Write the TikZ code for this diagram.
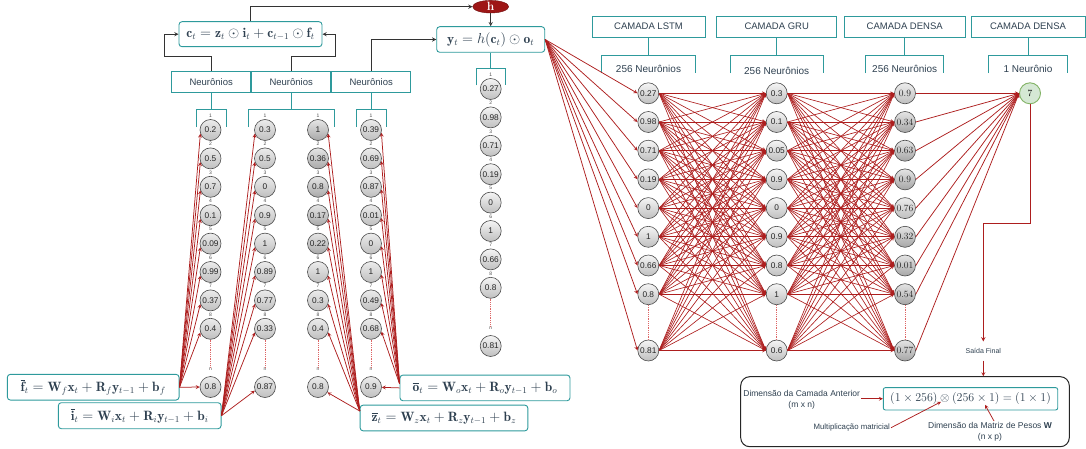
\documentclass[tikz,border=0pt]{standalone}
\usepackage{amsmath}
\usepackage{amssymb}
\usepackage{fontspec}
\setsansfont{Liberation Sans}
\usepackage{tikz}
\usetikzlibrary{positioning}
\usetikzlibrary{arrows}
\usetikzlibrary{calc}
\usetikzlibrary{shapes.geometric}

\definecolor{tealc}{HTML}{2E9A9C}
\definecolor{txtc}{HTML}{2E4050}
\definecolor{redc}{HTML}{AD1E1E}
\definecolor{dotc}{HTML}{DD6666}
\definecolor{hred}{HTML}{9E1616}
\definecolor{grnfill}{HTML}{D5E8D4}
\definecolor{grndraw}{HTML}{82B366}

\tikzset{
	>=stealth,
	neuron/.style={
		circle, draw=gray!60!black, line width=0.6pt,
		top color=gray!8, bottom color=gray!50,
		minimum size=21pt, inner sep=0pt, text=black!85,
		font=\sffamily\fontsize{8.3}{9}\selectfont},
	idx/.style={font=\sffamily\fontsize{5}{5}\selectfont, text=black!70, inner sep=0.5pt},
	gatebox/.style={
		draw=tealc, line width=0.9pt, rounded corners=3pt, fill=white,
		text=txtc, font=\fontsize{13.5}{15}\selectfont, inner sep=0pt},
	labbox/.style={
		draw=tealc, line width=0.9pt, fill=white, text=txtc,
		font=\sffamily\fontsize{9.5}{10}\selectfont, inner sep=0pt},
	bracket/.style={draw=tealc, line width=1pt},
	conn/.style={draw=black!80, line width=0.9pt, ->},
	wire/.style={draw=redc, line width=0.75pt, ->},
	mesh/.style={draw=redc, line width=0.65pt, ->},
	dots/.style={draw=dotc, densely dotted, line width=0.8pt},
	note/.style={text=txtc, font=\sffamily\fontsize{8.5}{11}\selectfont,
		align=center, inner sep=1pt}
}

\begin{document}
\begin{tikzpicture}[x=1pt,y=-1pt]
\useasboundingbox (0,0) rectangle (1086,449);

% celula LSTM
\node[gatebox, minimum width=143pt, minimum height=25pt] (ct) at (250.5,34.2)
	{$\mathbf{c}_t=\mathbf{z}_t\odot\mathbf{i}_t+\mathbf{c}_{t-1}\odot\mathbf{f}_t$};
\node[ellipse, draw=hred!70!black, fill=hred, minimum width=36pt, minimum height=12.6pt,
	inner sep=0pt, text=white, font=\bfseries\fontsize{12}{12}\selectfont] (h) at (490.7,6.7) {h};
\node[gatebox, minimum width=108pt, minimum height=25.6pt] (yt) at (490.7,39.5)
	{$\mathbf{y}_t=h(\mathbf{c}_t)\odot\mathbf{o}_t$};

\foreach \n/\x in {nf/211.2, ni/291.2, no/371.2}
	\node[labbox, minimum width=79pt, minimum height=21.3pt] (\n) at (\x,81.7) {Neurônios};

\draw[conn] (nf.north) -- ++(0,-14.3) -| ([xshift=-14pt]ct.west) -- (ct.west);
\draw[conn] (ni.north) -- ++(0,-14.3) -| ([xshift=13pt]ct.east) -- (ct.east);
\draw[conn] (no.north) |- (yt.west);
\draw[conn] (ct.north) |- (h.west);
\draw[conn] (h.south) -- (yt.north);

% chaves
\foreach \n/\w in {nf/15, ni/42.9, no/15}{
	\draw[bracket] (\n.south) -- ++(0,17) coordinate (b\n);
	\draw[bracket] ($(b\n)+(-\w,17.4)$) -- ++(0,-17.4) -- ($(b\n)+(\w,0)$) -- ++(0,17.4);
}
\draw[bracket] (yt.south) -- ++(0,15.4) coordinate (byt);
\draw[bracket] ($(byt)+(-14.5,17.3)$) -- ++(0,-17.3) -- ($(byt)+(14.5,0)$) -- ++(0,17.3);

% neuronios das portas
\foreach \c/\x/\vals in {
	A/210.5/{0.2/50,0.5/50,0.7/50,0.1/50,0.09/50,0.99/50,0.37/50,0.4/50,0.8/50},
	B/265/{0.3/50,0.5/50,0/50,0.9/50,1/50,0.89/50,0.77/50,0.33/50,0.87/50},
	Z/318/{1/68,0.36/68,0.8/68,0.17/68,0.22/68,1/50,0.3/50,0.4/50,0.8/50},
	O/371/{0.39/50,0.69/50,0.87/50,0.01/50,0/50,1/50,0.49/50,0.68/50,0.9/50}}{
	\foreach \v/\b [count=\k] in \vals{
		\ifnum\k<9
			\node[neuron, top color=gray!\b!white!30, bottom color=gray!\b] (\c\k) at (\x,{130+28.4*(\k-1)}) {\v};
			\node[idx] at ([yshift=3.5pt]\c\k.north) {\k};
		\else
			\node[neuron, top color=gray!\b!white!30, bottom color=gray!\b] (\c\k) at (\x,387) {\v};
			\node[idx] (n\c) at ([yshift=7pt]\c\k.north) {n};
		\fi
	}
	\draw[dots] (\c8.south) -- (n\c.north);
}

% saida y_t
\foreach \v [count=\k] in {0.27,0.98,0.71,0.19,0,1,0.66,0.8,0.81}{
	\ifnum\k<9
		\node[neuron] (Y\k) at (490.7,{89+28.4*(\k-1)}) {\v};
		\node[idx] at ([yshift=3.5pt]Y\k.north) {\k};
	\else
		\node[neuron] (Y\k) at (490.7,346) {\v};
		\node[idx] (nY) at ([yshift=7pt]Y\k.north) {n};
	\fi
}
\draw[dots] (Y8.south) -- (nY.north);

% equacoes das portas
\node[gatebox, minimum width=171.7pt, minimum height=25.7pt] (fq) at (93.2,387.2)
	{$\overline{\mathbf{f}}_t=\mathbf{W}_f\mathbf{x}_t+\mathbf{R}_f\mathbf{y}_{t-1}+\mathbf{b}_f$};
\node[gatebox, minimum width=162.7pt, minimum height=26pt] (iq) at (139.7,415.7)
	{$\overline{\mathbf{i}}_t=\mathbf{W}_i\mathbf{x}_t+\mathbf{R}_i\mathbf{y}_{t-1}+\mathbf{b}_i$};
\node[gatebox, minimum width=170pt, minimum height=25.7pt] (oq) at (485,387.9)
	{$\overline{\mathbf{o}}_t=\mathbf{W}_o\mathbf{x}_t+\mathbf{R}_o\mathbf{y}_{t-1}+\mathbf{b}_o$};
\node[gatebox, minimum width=167.7pt, minimum height=25.7pt] (zq) at (444,418)
	{$\overline{\mathbf{z}}_t=\mathbf{W}_z\mathbf{x}_t+\mathbf{R}_z\mathbf{y}_{t-1}+\mathbf{b}_z$};

\foreach \k in {1,...,8}{
	\draw[wire] (fq.east) -- (A\k.200);
	\draw[wire] (iq.east) -- (B\k.200);
	\draw[wire] ([yshift=7pt]zq.west) -- (Z\k.-20);
	\draw[wire] ([yshift=4pt]oq.west) -- (O\k.-15);
}
\draw[wire] (fq.east) -- (A9);
\draw[wire] (iq.east) -- (B9.200);
\draw[wire] ([yshift=7pt]zq.west) -- (Z9);
\draw[wire] (oq.west) -- (O9);

% camadas
\foreach \n/\x/\w/\t in {hL/648.5/113/CAMADA LSTM, hG/776.7/120/CAMADA GRU,
		hD/904.7/120.7/CAMADA DENSA, hO/1028/114/CAMADA DENSA}
	\node[labbox, minimum width=\w pt, minimum height=21.3pt] (\n) at (\x,26.7) {\t};

\foreach \n/\w/\t/\dy in {hL/46.7/256 Neurônios/0, hG/46.3/256 Neurônios/2.5,
		hD/39.2/256 Neurônios/0, hO/39.5/1 Neurônio/0}{
	\draw[bracket] (\n.south) -- ++(0,17.7) coordinate (b\n);
	\draw[bracket] ($(b\n)+(-\w,17.7)$) -- ++(0,-17.7) -- ($(b\n)+(\w,0)$) -- ++(0,17.7);
	\node[text=txtc, font=\sffamily\fontsize{10}{10}\selectfont, inner sep=0pt] (t\n) at ($(b\n)+(0,13+\dy)$) {\t};
}

\foreach \c/\x/\vals in {
	L/648.3/{0.27/50,0.98/50,0.71/50,0.19/50,0/50,1/50,0.66/50,0.8/50,0.81/50},
	G/776.7/{0.3/50,0.1/50,0.05/50,0.9/50,0/50,0.9/50,0.8/50,1/50,0.6/50}}{
	\foreach \v/\b [count=\k] in \vals{
		\ifnum\k<9
			\node[neuron, bottom color=gray!\b] (\c\k) at (\x,{93.3+28.7*(\k-1)}) {\v};
		\else
			\node[neuron, bottom color=gray!\b] (\c\k) at (\x,350.5) {\v};
		\fi
	}
	\draw[dots] (\c8.south) -- (\c9.north);
}
\foreach \v/\b [count=\k] in {0.9/50,0.34/70,0.63/70,0.9/70,0.76/50,0.32/70,0.01/70,0.54/70,0.77/70}{
	\ifnum\k<9
		\node[neuron, top color=gray!\b!white!30, bottom color=gray!\b,
			font=\rmfamily\fontsize{9.5}{9.5}\selectfont] (D\k) at (905,{93.3+28.7*(\k-1)}) {\v};
	\else
		\node[neuron, top color=gray!\b!white!30, bottom color=gray!\b,
			font=\rmfamily\fontsize{9.5}{9.5}\selectfont] (D\k) at (905,350.5) {\v};
	\fi
}
\draw[dots] (D8.south) -- (D9.north);
\node[circle, fill=grnfill, draw=grndraw, line width=0.9pt, minimum size=21pt, inner sep=0pt,
	font=\fontsize{9.5}{9.5}\selectfont] (out) at (1030,93.3) {7};

\foreach \i in {1,...,9}{
	\draw[wire] (yt.east) -- (L\i.west);
	\draw[wire] (D\i.east) -- (out.west);
	\foreach \j in {1,...,9}{
		\draw[mesh] (L\i.east) -- (G\j.west);
		\draw[mesh] (G\i.east) -- (D\j.west);
	}
}

% saida final
\node[note, font=\sffamily\fontsize{7}{8}\selectfont, inner sep=2pt, outer sep=5pt] (sf) at (983.3,351) {Saída Final};
\draw[wire, line width=0.9pt] (out.south) -- ++(0,119) -| (sf.north);
\node[draw=black!85, line width=1pt, rounded corners=9pt, minimum width=328.6pt,
	minimum height=70pt] (bx) at (905,411.7) {};
\draw[wire] (sf.south) -- (sf.south |- bx.north);

\node[gatebox, rounded corners=2pt, minimum width=174.4pt, minimum height=22.3pt,
	font=\fontsize{12.5}{14}\selectfont] (fm) at (970.5,398.8)
	{$(1\times 256)\otimes(256\times 1)=(1\times 1)$};
\node[note] (dca) at (801.7,400) {Dimensão da Camada Anterior\\(m x n)};
\node[note, font=\sffamily\fontsize{7.8}{9}\selectfont] (mm) at (851.7,427.7) {Multiplicação matricial};
\node[note] (dmp) at (990,431.7) {Dimensão da Matriz de Pesos \textbf{W}\\(n x p)};
\coordinate (ox) at ($(fm.center)+(-29.5,3)$);
\coordinate (w1) at ($(fm.center)+(14.5,6)$);
\draw[wire] (dca.east |- fm.west) -- (fm.west);
\draw[wire] (mm.east) -- (ox);
\draw[wire] ([xshift=4pt]dmp.north) -- (w1);
\end{tikzpicture}
\end{document}
